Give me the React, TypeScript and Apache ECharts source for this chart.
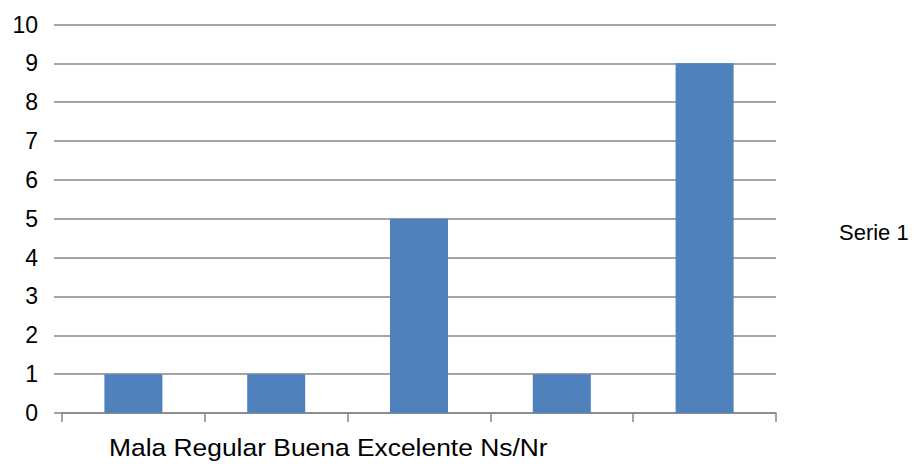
import React, { useEffect, useRef } from "react";
import * as echarts from "echarts";

const categories = ["Mala", "Regular", "Buena", "Excelente", "Ns/Nr"];
const serieName = "Serie 1";
const serieValues = [1, 1, 5, 1, 9];
const yMin = 0;
const yMax = 10;
const yInterval = 1;

const FONT = "'Liberation Sans', Arial, sans-serif";
const GRID_COLOR = "#868686";

export default function App() {
  const ref = useRef<HTMLDivElement>(null);

  useEffect(() => {
    if (!ref.current) return;
    const chart = echarts.init(ref.current, null, { renderer: "svg" });
    chart.setOption({
      animation: false,
      backgroundColor: "#ffffff",
      grid: { left: 62, right: 139, top: 24.5, bottom: 51, containLabel: false },
      legend: {
        data: [serieName],
        left: 834,
        top: "middle",
        padding: 0,
        orient: "vertical",
        icon: "rect",
        itemWidth: 0,
        itemHeight: 0,
        selectedMode: false,
        textStyle: { fontFamily: FONT, fontSize: 22, color: "#000" },
      },
      xAxis: {
        type: "category",
        data: categories,
        axisLine: { show: true, lineStyle: { color: GRID_COLOR, width: 1.5 } },
        axisTick: { show: true, alignWithLabel: false, length: 9, lineStyle: { color: GRID_COLOR, width: 1.5 } },
        axisLabel: { show: false },
        splitLine: { show: false },
      },
      yAxis: {
        type: "value",
        min: yMin,
        max: yMax,
        interval: yInterval,
        axisLine: { show: false },
        axisTick: { show: true, length: 8, lineStyle: { color: GRID_COLOR, width: 1.5 } },
        axisLabel: { fontFamily: FONT, fontSize: 23, color: "#000", margin: 24 },
        splitLine: { show: true, lineStyle: { color: GRID_COLOR, width: 1.5 } },
      },
      series: [
        {
          name: serieName,
          type: "bar",
          data: serieValues,
          barWidth: 58,
          itemStyle: { color: "#4f81bd" },
        },
      ],
      graphic: [
        {
          type: "text",
          left: 109,
          top: 435,
          scaleX: 1.1,
          style: {
            text: categories.join(" "),
            font: `24px ${FONT}`,
            fill: "#000",
          },
        },
      ],
    });
    return () => chart.dispose();
  }, []);

  return (
    <div
      ref={ref}
      style={{ position: "absolute", left: 0, top: 0, width: 915, height: 464 }}
    />
  );
}
